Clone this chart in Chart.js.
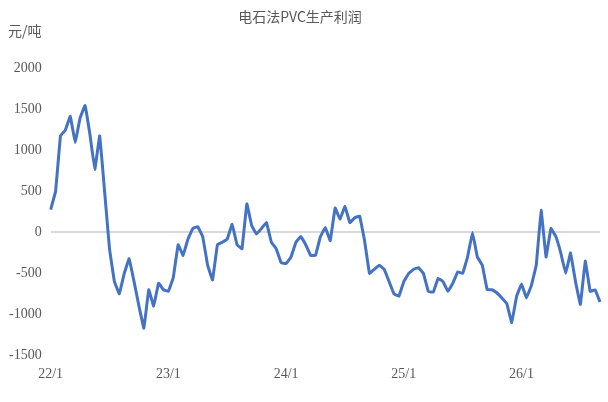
<!DOCTYPE html>
<html><head><meta charset="utf-8">
<script src="https://cdn.jsdelivr.net/npm/chart.js@4"></script>
<style>body{margin:0;background:#fff}#w{position:relative;width:608px;height:402px}
#u{position:absolute;left:8px;top:20px;font:14px "Noto Sans CJK SC";color:#595959}</style>
</head><body><div id="w"><canvas id="c" width="608" height="402"></canvas><div id="u">元/吨</div></div>
<script>
const profit=[280,500,1180,1250,1420,1100,1400,1550,1200,770,1180,500,-200,-600,-750,-500,-320,-600,-900,-1170,-700,-900,-620,-700,-720,
-550,-150,-280,-80,50,70,-50,-400,-580,-150,-120,-80,100,-150,-200,350,80,-20,50,120,-120,-200,-370,-380,
-300,-120,-50,-150,-280,-280,-50,60,-100,300,160,320,120,180,200,-100,-500,-450,-400,-450,-600,-750,-780,-600,
-500,-450,-430,-500,-720,-730,-560,-600,-720,-620,-480,-500,-300,0,-300,-400,-700,-700,-740,-800,-870,-1100,-780,-630,
-800,-650,-400,270,-300,50,-50,-250,-500,-250,-600,-880,-350,-720,-700,-850];
const yearLabels={0:'22/1',24:'23/1',48:'24/1',72:'25/1',96:'26/1'};
const labels=profit.map((v,i)=>yearLabels[i]||'');
const yTicks=[-1500,-1000,-500,0,500,1000,1500,2000];
new Chart(document.getElementById('c'),{type:'line',
data:{labels,datasets:[{data:profit,borderColor:'#4472C4',borderWidth:3,pointRadius:0,tension:0.05}]},
options:{responsive:false,animation:false,
layout:{padding:{left:0,right:8,top:4,bottom:16}},
plugins:{legend:{display:false},title:{display:true,text:'电石法PVC生产利润',color:'#595959',font:{family:'Noto Sans CJK SC',size:14,weight:'normal'},padding:{top:4,bottom:44}}},
scales:{
x:{grid:{display:false},border:{display:false},ticks:{autoSkip:false,maxRotation:0,color:'#595959',font:{family:'Liberation Serif',size:14},callback:(v,i)=>labels[i]}},
y:{min:-1500,max:2000,afterBuildTicks:s=>{s.ticks=yTicks.map(v=>({value:v}))},border:{display:false},
grid:{color:c=>c.tick.value===0?'#d9d9d9':'transparent',lineWidth:2,drawTicks:false},
ticks:{padding:9,color:'#595959',font:{family:'Liberation Serif',size:14},callback:v=>String(v)}}}}});
</script></body></html>
